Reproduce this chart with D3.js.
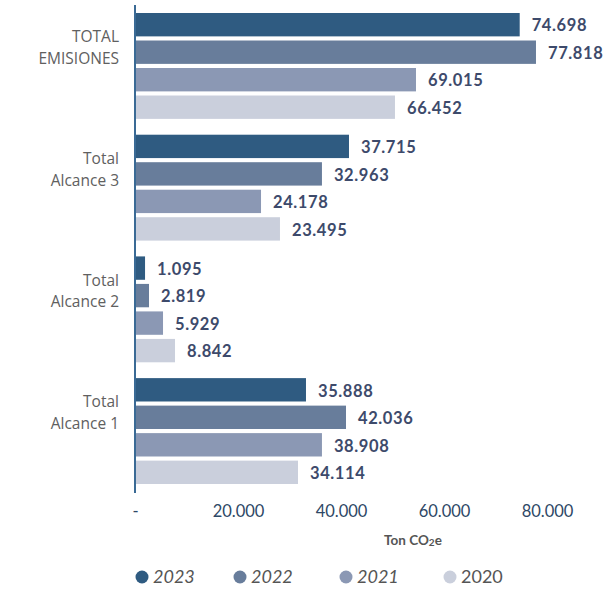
<!DOCTYPE html>
<html>
<head>
<meta charset="utf-8">
<script src="https://cdn.jsdelivr.net/npm/d3@7"></script>
<style>
  body { margin: 0; background: #fff; }
  svg { display: block; font-family: Lato, "Noto Sans", sans-serif; }
</style>
</head>
<body>
<div id="chart"></div>
<script>
// Chart data
var categories = ["TOTAL EMISIONES", "Total Alcance 3", "Total Alcance 2", "Total Alcance 1"];
var categoryLines = [["TOTAL", "EMISIONES"], ["Total", "Alcance 3"], ["Total", "Alcance 2"], ["Total", "Alcance 1"]];
var years = ["2023", "2022", "2021", "2020"];

// printed value labels
var labels2023 = [74698, 37715, 1095, 35888];
var labels2022 = [77818, 32963, 2819, 42036];
var labels2021 = [69015, 24178, 5929, 38908];
var labels2020 = [66452, 23495, 8842, 34114];

// bar lengths as drawn in the picture
var bars2023 = [74700, 41550, 1950, 33200];
var bars2022 = [77860, 36300, 2720, 40970];
var bars2021 = [54560, 24470, 5440, 36300];
var bars2020 = [50480, 28150, 7770, 31650];

var xTicks = [0, 20000, 40000, 60000, 80000];
var colors = ["#2f5b81", "#687d9b", "#8b98b4", "#cacfdc"];

var svgWidth = 603;
var svgHeight = 589;

var svg = d3.select("#chart")
  .append("svg")
  .attr("width", svgWidth)
  .attr("height", svgHeight);

var barsByYear = [bars2023, bars2022, bars2021, bars2020];
var labelsByYear = [labels2023, labels2022, labels2021, labels2020];

var rows = [];
categories.forEach(function(cat, i) {
  years.forEach(function(yr, j) {
    rows.push({ cat: cat, year: yr, bar: barsByYear[j][i], label: labelsByYear[j][i], color: colors[j] });
  });
});

// Scales
var x = d3.scaleLinear().domain([0, 80000]).range([135, 547]);
var y0 = d3.scaleBand().domain(categories).range([13, 484]).paddingInner(0.13);
var y1 = d3.scaleBand().domain(years).range([0, y0.bandwidth()]).paddingInner(0.15);

var fmt = d3.formatLocale({ decimal: ",", thousands: ".", grouping: [3], currency: ["", ""] }).format(",.0f");

// Bars
svg.append("g").selectAll("rect")
  .data(rows)
  .enter()
  .append("rect")
  .attr("x", x(0) + 1)
  .attr("y", function(d) { return y0(d.cat) + y1(d.year); })
  .attr("width", function(d) { return x(d.bar) - x(0) - 1; })
  .attr("height", y1.bandwidth())
  .attr("fill", function(d) { return d.color; });

// Value labels
svg.append("g").selectAll("text")
  .data(rows)
  .enter()
  .append("text")
  .attr("x", function(d) { return x(d.bar) + 12; })
  .attr("y", function(d) { return y0(d.cat) + y1(d.year) + y1.bandwidth() / 2 + 1; })
  .attr("dy", "0.35em")
  .attr("fill", "#3d4a6b")
  .attr("font-weight", 700)
  .attr("font-size", 16.5)
  .attr("letter-spacing", 0.6)
  .text(function(d) { return fmt(d.label); });

// Vertical axis line
svg.append("line")
  .attr("x1", x(0)).attr("x2", x(0))
  .attr("y1", 5).attr("y2", 493)
  .attr("stroke", "#3a6a95")
  .attr("stroke-width", 2);

// Category labels
var catG = svg.append("g").selectAll("text")
  .data(categories)
  .enter()
  .append("text")
  .attr("text-anchor", "end")
  .attr("fill", "#606060")
  .attr("font-family", "'Open Sans', sans-serif")
  .attr("font-size", 15.5)
  .attr("y", function(d) { return y0(d) + y0.bandwidth() / 2 - 19; });

catG.selectAll("tspan")
  .data(function(d, i) { return categoryLines[i]; })
  .enter()
  .append("tspan")
  .attr("x", 119)
  .attr("dy", function(d, i) { return i === 0 ? "-0.3em" : "1.4em"; })
  .text(function(d) { return d; });

// X axis (no line, only labels)
var xAxis = d3.axisBottom(x)
  .tickValues(xTicks)
  .tickSize(0)
  .tickFormat(function(d) { return d === 0 ? "-" : fmt(d); });

var axisG = svg.append("g")
  .attr("transform", "translate(0, 502)")
  .call(xAxis);
axisG.select(".domain").remove();
axisG.selectAll("text")
  .attr("fill", "#2e4866")
  .attr("font-size", 16.5)
  .attr("font-family", "Lato, sans-serif");

// Axis title
var title = svg.append("text")
  .attr("x", 413)
  .attr("y", 545)
  .attr("text-anchor", "middle")
  .attr("fill", "#555")
  .attr("font-weight", 700)
  .attr("font-size", 13.5);
title.append("tspan").text("Ton CO");
title.append("tspan").attr("font-size", 10).attr("dy", 1).text("2");
title.append("tspan").attr("dy", -1).text("e");

// Legend
var legendX = [142, 240, 346, 450];
var legend = svg.append("g").selectAll("g")
  .data(years)
  .enter()
  .append("g")
  .attr("transform", function(d, i) { return "translate(" + legendX[i] + ", 577)"; });

legend.append("circle")
  .attr("r", 6.5)
  .attr("fill", function(d, i) { return colors[i]; });

legend.append("text")
  .attr("x", 11)
  .attr("dy", "0.35em")
  .attr("fill", "#555")
  .attr("font-size", 18)
  .attr("font-style", function(d, i) { return i < 3 ? "italic" : "normal"; })
  .text(function(d) { return d; });
</script>
</body>
</html>
